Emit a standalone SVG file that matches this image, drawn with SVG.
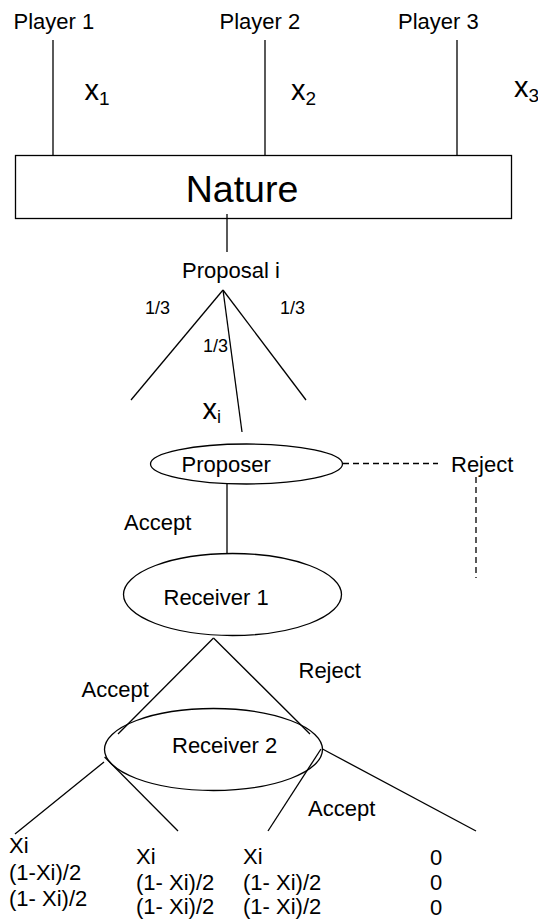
<svg xmlns="http://www.w3.org/2000/svg" width="538" height="923" viewBox="0 0 538 923">
<style>
text{font-family:"Liberation Sans",Arial,sans-serif;fill:#000}
.t{font-size:22px}
.s{font-size:18px}
.v{font-size:29px}
.sub{font-size:19px}
.ln{stroke:#000;stroke-width:1.3;fill:none}
.ds{stroke:#000;stroke-width:1.3;fill:none;stroke-dasharray:6 4}
.nd{fill:#fff;stroke:#000;stroke-width:1.3}
</style>
<g id="connectors">
<line class="ln" x1="53" y1="40" x2="53" y2="155"/>
<line class="ln" x1="265" y1="40" x2="265" y2="155"/>
<line class="ln" x1="457" y1="40" x2="457" y2="155"/>
<line class="ln" x1="227" y1="214" x2="227" y2="252"/>
<line class="ln" x1="223" y1="290" x2="131" y2="400"/>
<line class="ln" x1="223" y1="290" x2="306" y2="400"/>
<line class="ln" x1="223" y1="290" x2="242" y2="432"/>
<line class="ds" x1="343" y1="463.5" x2="438" y2="463.5"/>
<line class="ds" x1="476" y1="477" x2="476" y2="578"/>
<line class="ln" x1="227" y1="484" x2="227" y2="557"/>
<line class="ln" x1="213.5" y1="638" x2="118" y2="734"/>
<line class="ln" x1="213.5" y1="638" x2="310" y2="734"/>
<line class="ln" x1="104" y1="762" x2="15" y2="834"/>
<line class="ln" x1="104.6" y1="757" x2="178" y2="831"/>
<line class="ln" x1="321" y1="749" x2="268" y2="831"/>
<line class="ln" x1="322.5" y1="749" x2="476" y2="831"/>
</g>
<g id="players">
<text class="t" x="13.5" y="29">Player 1</text>
<text class="t" x="219.5" y="29">Player 2</text>
<text class="t" x="398" y="29">Player 3</text>
<text class="v" x="84.5" y="99.5">x<tspan class="sub" dy="5">1</tspan></text>
<text class="v" x="291" y="99.5">x<tspan class="sub" dy="5">2</tspan></text>
<text class="v" x="514" y="97">x<tspan class="sub" dy="5">3</tspan></text>
</g>
<g id="nature">
<rect class="nd" x="15.5" y="155.5" width="496" height="63"/>
<text x="242" y="202" font-size="37.5" text-anchor="middle">Nature</text>
<line class="ln" x1="227" y1="214" x2="227" y2="219"/>
</g>
<g id="proposal">
<text class="t" x="182" y="278">Proposal i</text>
<text class="s" x="145" y="314">1/3</text>
<text class="s" x="280" y="314">1/3</text>
<text class="s" x="203" y="352">1/3</text>
<text class="v" x="202.5" y="418.5" font-size="27">x<tspan font-size="18" dy="4">i</tspan></text>
</g>
<g id="proposer">
<ellipse class="nd" cx="246.5" cy="464" rx="96" ry="20"/>
<text class="t" x="181.5" y="472">Proposer</text>
</g>
<g id="proposer-reject">
<text class="t" x="451" y="472">Reject</text>
</g>
<g id="proposer-accept">
<text class="t" x="124" y="530">Accept</text>
</g>
<g id="receiver1">
<ellipse class="nd" cx="232.5" cy="594.5" rx="109" ry="41"/>
<text class="t" x="163.5" y="605">Receiver 1</text>
</g>
<g id="receiver1-labels">
<text class="t" x="81.5" y="697">Accept</text>
<text class="t" x="298.5" y="677.5">Reject</text>
</g>
<g id="receiver2">
<ellipse class="ln" cx="213.5" cy="749.5" rx="109" ry="41"/>
<text class="t" x="172" y="753">Receiver 2</text>
<text class="t" x="308" y="816">Accept</text>
</g>
<g id="payoffs" class="t">
<text x="9" y="853">Xi</text>
<text x="9" y="880">(1-Xi)/2</text>
<text x="9" y="906">(1- Xi)/2</text>
<text x="136" y="864">Xi</text>
<text x="136" y="890">(1- Xi)/2</text>
<text x="136" y="914">(1- Xi)/2</text>
<text x="243" y="864">Xi</text>
<text x="243" y="890">(1- Xi)/2</text>
<text x="243" y="914">(1- Xi)/2</text>
<text x="430" y="865">0</text>
<text x="430" y="890">0</text>
<text x="430" y="915">0</text>
</g>
</svg>
